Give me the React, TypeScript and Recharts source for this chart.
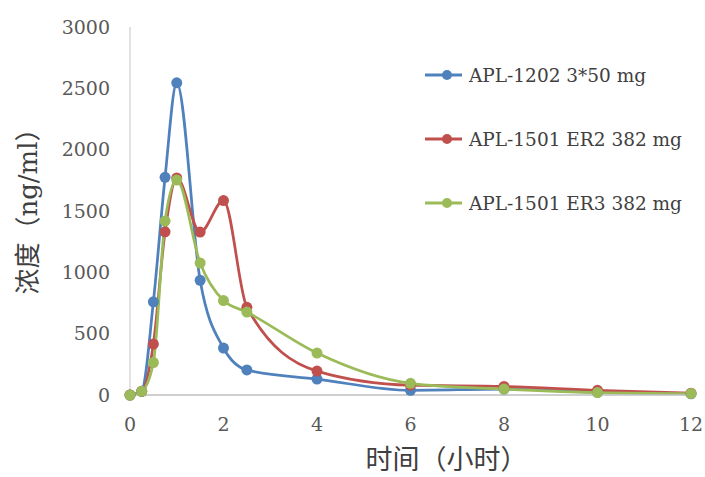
import React from 'react';
import { LineChart, Line, XAxis, YAxis, Legend, Label } from 'recharts';

const times = [0, 0.25, 0.5, 0.75, 1, 1.5, 2, 2.5, 4, 6, 8, 10, 12];
const apl1202 = [0, 30, 760, 1775, 2545, 935, 383, 204, 130, 38, 48, 22, 10];
const apl1501er2 = [0, 30, 415, 1330, 1770, 1328, 1585, 715, 195, 80, 70, 38, 15];
const apl1501er3 = [0, 30, 265, 1418, 1752, 1076, 770, 676, 342, 95, 48, 20, 12];

const seriesKeys = ['a', 'b', 'c'];
const seriesNames = ['APL-1202 3*50 mg', 'APL-1501 ER2 382 mg', 'APL-1501 ER3 382 mg'];
const seriesColors = ['#4F81BD', '#C0504D', '#9BBB59'];
const xTicks = [0, 2, 4, 6, 8, 10, 12];
const yTicks = [0, 500, 1000, 1500, 2000, 2500, 3000];
const xTitle = '时间（小时）';
const yTitle = '浓度（ng/ml）';

const data = times.map((t, i) => ({
  t,
  a: apl1202[i],
  b: apl1501er2[i],
  c: apl1501er3[i],
}));

const serif = '"DejaVu Serif", "Noto Sans CJK SC", serif';

const LegendContent = (props: any) => {
  const payload = props.payload || [];
  return (
    <svg width={285} height={170} style={{ overflow: 'visible' }}>
      {payload.map((p: any, i: number) => (
        <g key={i} transform={`translate(0, ${i * 64})`}>
          <line x1={5} x2={42} y1={20} y2={20} stroke={p.color} strokeWidth={3} />
          <circle cx={27} cy={20} r={5} fill={p.color} />
          <text
            x={49}
            y={20}
            dominantBaseline="central"
            fontFamily={serif}
            fontSize={18.5}
            fill="#404040"
          >
            {p.value}
          </text>
        </g>
      ))}
    </svg>
  );
};

export default function App() {
  return (
    <div style={{ position: 'absolute', left: 0, top: 0, background: '#fff' }}>
      <LineChart
        width={705}
        height={477}
        data={data}
        margin={{ top: 27, right: 14, bottom: 0, left: 0 }}
      >
        <XAxis
          dataKey="t"
          type="number"
          domain={[0, 12]}
          ticks={xTicks}
          tickLine={false}
          tickSize={0}
          tickMargin={23}
          height={82}
          axisLine={{ stroke: '#BFBFBF', strokeWidth: 1.5 }}
          tick={{ fontSize: 19, fill: '#595959', fontFamily: serif }}
        >
          <Label
            content={(props: any) => {
              const vb = props.viewBox;
              return (
                <text
                  x={vb.x + vb.width / 2 + 36}
                  y={469}
                  textAnchor="middle"
                  fontFamily={serif}
                  fontSize={27}
                  fill="#404040"
                >
                  {xTitle}
                </text>
              );
            }}
          />
        </XAxis>
        <YAxis
          type="number"
          domain={[0, 3000]}
          ticks={yTicks}
          width={130}
          tickLine={false}
          tickSize={0}
          tickMargin={20}
          axisLine={{ stroke: '#D9D9D9', strokeWidth: 1.5 }}
          tick={{ fontSize: 19, fill: '#595959', fontFamily: serif }}
        >
          <Label
            content={(props: any) => {
              const vb = props.viewBox;
              const cx = 28;
              const cy = vb.y + vb.height / 2 - 6;
              return (
                <text
                  x={cx}
                  y={cy}
                  transform={`rotate(-90, ${cx}, ${cy})`}
                  textAnchor="middle"
                  dominantBaseline="central"
                  fontFamily={serif}
                  fontSize={26}
                  fill="#404040"
                >
                  {yTitle}
                </text>
              );
            }}
          />
        </YAxis>
        <Legend
          layout="vertical"
          align="center"
          verticalAlign="middle"
          content={<LegendContent />}
          wrapperStyle={{ left: 420, top: 55, width: 285, height: 170 }}
        />
        {seriesKeys.map((k, i) => (
          <Line
            key={k}
            type="monotone"
            dataKey={k}
            name={seriesNames[i]}
            stroke={seriesColors[i]}
            strokeWidth={2.75}
            dot={{ r: 5.5, fill: seriesColors[i], stroke: seriesColors[i], strokeWidth: 0 }}
            activeDot={false}
            isAnimationActive={false}
          />
        ))}
      </LineChart>
    </div>
  );
}
